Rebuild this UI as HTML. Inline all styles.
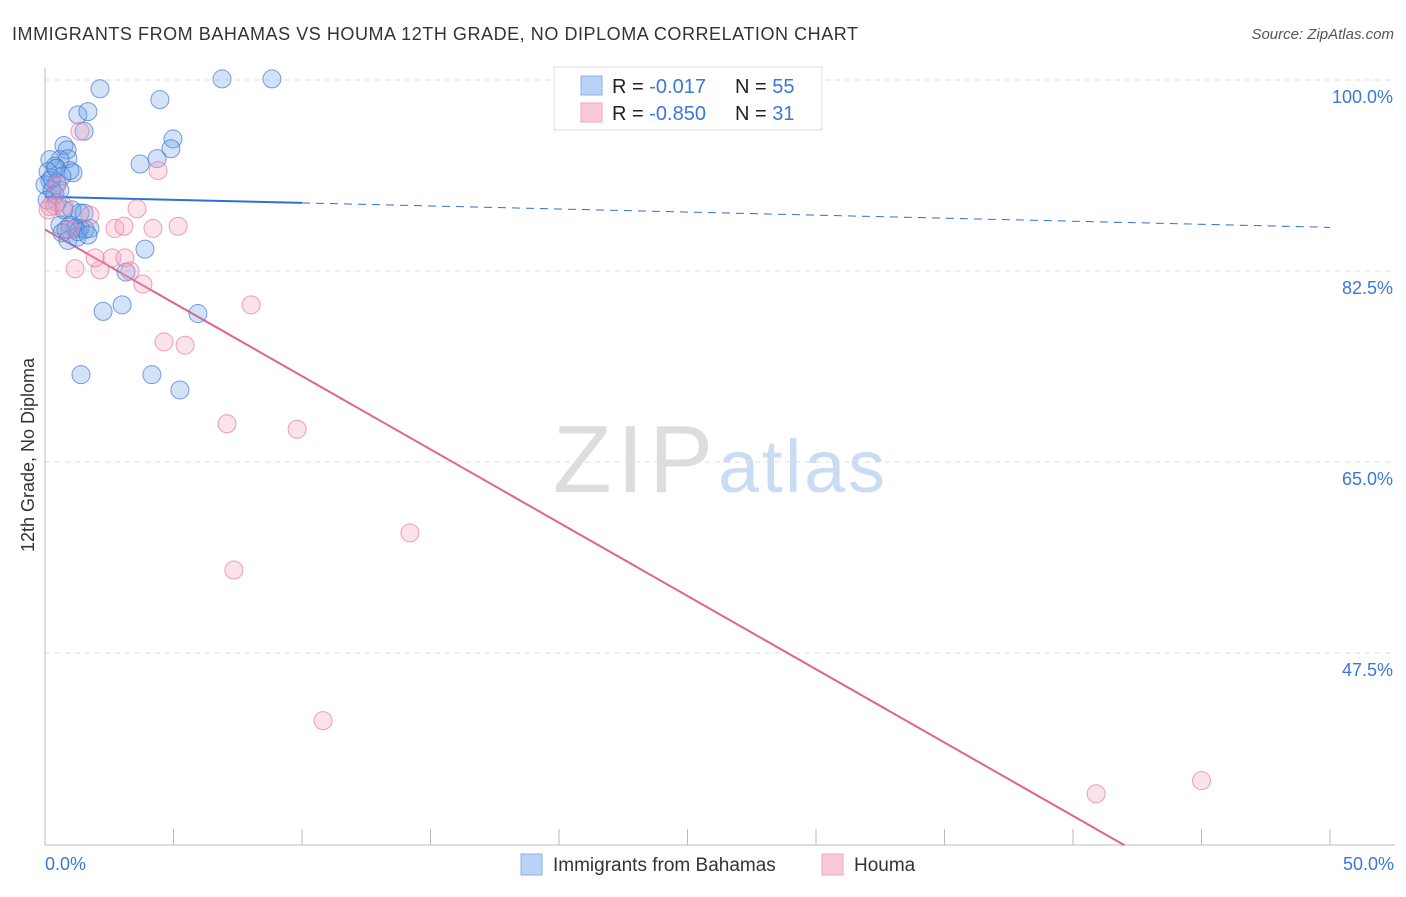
<!DOCTYPE html>
<html><head><meta charset="utf-8"><style>
body{margin:0;background:#fff;font-family:"Liberation Sans",sans-serif}
svg text{font-family:"Liberation Sans",sans-serif}
</style></head><body>
<svg id="c" width="1406" height="892" xmlns="http://www.w3.org/2000/svg">
<text x="12" y="40" font-size="18" fill="#333" textLength="846" lengthAdjust="spacing">IMMIGRANTS FROM BAHAMAS VS HOUMA 12TH GRADE, NO DIPLOMA CORRELATION CHART</text>
<text x="1394" y="39" font-size="15" fill="#555" font-style="italic" text-anchor="end">Source: ZipAtlas.com</text>
<g>
<text x="553" y="492" font-size="96" fill="#ddd" font-family="Liberation Serif,serif" textLength="160">ZIP</text>
<text x="718" y="492" font-size="74" fill="#c9dcf3" textLength="167">atlas</text>
</g>
<g id="grid"></g>
<g id="axes"></g>
<g id="trend"></g>
<g id="pts"></g>
<text transform="translate(34,455) rotate(-90)" font-size="18" fill="#333" text-anchor="middle">12th Grade, No Diploma</text>
<text x="45" y="870" font-size="18" fill="#3a78d8">0.0%</text>
<text x="1394" y="870" font-size="18" fill="#3a78d8" text-anchor="end">50.0%</text>
<g>
<rect x="554" y="67" width="268" height="63" fill="#fff" stroke="#ddd"/>
<rect x="581" y="76" width="21" height="19" fill="#b8d3f5" stroke="#8ab2e8"/>
<rect x="581" y="103" width="21" height="19" fill="#fbc9d9" stroke="#f0a4be"/>
<text x="612" y="93" font-size="20" fill="#222">R = <tspan fill="#3a78d8"> -0.017</tspan></text>
<text x="735" y="93" font-size="20" fill="#222">N = <tspan fill="#3a78d8">55</tspan></text>
<text x="612" y="120" font-size="20" fill="#222">R = <tspan fill="#3a78d8">-0.850</tspan></text>
<text x="735" y="120" font-size="20" fill="#222">N = <tspan fill="#3a78d8"> 31</tspan></text>
</g>
<g>
<rect x="521" y="854" width="21" height="21" fill="#b8d3f5" stroke="#8ab2e8"/>
<text x="553" y="871" font-size="19" fill="#333">Immigrants from Bahamas</text>
<rect x="822" y="854" width="21" height="21" fill="#fbc9d9" stroke="#f0a4be"/>
<text x="854" y="871" font-size="19" fill="#333">Houma</text>
</g>
</svg>
<script>
const yTicks=[100,82.5,65,47.5];
const yTickLabels=["100.0%","82.5%","65.0%","47.5%"];
const xTicks=[0,5,10,15,20,25,30,35,40,45,50];
const blueX=[2.14,6.89,8.83,4.47,1.28,1.67,1.52,4.98,4.90,4.36,3.70,0.74,0.86,0.89,0.58,0.19,0.39,1.09,0.97,0.19,0.47,0.66,0.0,0.12,0.27,0.74,1.05,1.36,1.52,0.47,0.58,0.97,1.17,1.36,1.56,0.66,0.89,1.25,1.28,3.89,3.15,2.26,3.00,5.95,1.40,4.16,5.25,0.39,0.08,0.58,0.27,0.82,1.75,0.43,1.67];
const blueY=[99.2,100.1,100.1,98.2,96.8,97.1,95.3,94.6,93.7,92.8,92.3,94.0,93.6,92.8,92.7,92.7,92.1,91.5,91.7,90.8,90.6,91.2,90.4,91.6,89.9,88.1,88.1,87.8,87.8,88.8,86.7,86.7,86.4,86.4,86.3,86.0,85.3,85.6,86.1,84.5,82.4,78.8,79.4,78.6,73.0,73.0,71.6,89.5,89.0,89.9,91.0,86.3,86.4,91.9,85.8];
const pinkX=[1.36,4.40,0.47,0.19,0.39,0.74,1.75,3.58,2.72,3.07,4.20,5.18,1.17,2.14,1.95,2.61,3.11,3.31,3.81,8.02,4.63,5.45,7.08,9.81,14.20,7.35,10.82,40.9,45.0,0.97,0.12];
const pinkY=[95.3,91.7,90.4,88.4,88.5,88.4,87.6,88.2,86.4,86.6,86.4,86.6,82.7,82.6,83.7,83.7,83.7,82.5,81.3,79.4,76.0,75.7,68.5,68.0,58.5,55.1,41.3,34.6,35.8,86.3,88.1];
const blueTrend=[89.3,86.5];
const pinkTrend=[86.3,-1.343];

const X0=45,X1=1330,YB=845;
const sx=v=>X0+(v/50)*(X1-X0);
const sy=v=>80+(100-v)*10.914;
const NS="http://www.w3.org/2000/svg";
function mk(tag,attrs,parent){const e=document.createElementNS(NS,tag);for(const k in attrs)e.setAttribute(k,attrs[k]);document.getElementById(parent).appendChild(e);return e;}

yTicks.forEach((t,i)=>{
  const l=mk('line',{x1:X0,x2:1395,y1:sy(t),y2:sy(t),stroke:'#ddd','stroke-dasharray':'5,5'},'grid');
  
  
  const tx=mk('text',{x:1393,y:sy(t)+23,'font-size':18,fill:'#3a78d8','text-anchor':'end'},'grid');
  tx.textContent=yTickLabels[i];
  
  
});
const ax=mk('line',{x1:X0,x2:X0,y1:68,y2:YB,stroke:'#bbb'},'axes');


const bx=mk('line',{x1:X0,x2:1395,y1:YB,y2:YB,stroke:'#bbb'},'axes');


xTicks.forEach(t=>{
  const l=mk('line',{x1:sx(t),x2:sx(t),y1:829,y2:YB,stroke:'#bbb'},'axes');
  
  
});

const b1=mk('line',{x1:sx(0),y1:sy(blueTrend[0]),x2:sx(10),y2:sy(blueTrend[0]+(blueTrend[1]-blueTrend[0])*0.2),stroke:'#2f6fd6','stroke-width':2},'trend');


const b2=mk('line',{x1:sx(10),y1:sy(blueTrend[0]+(blueTrend[1]-blueTrend[0])*0.2),x2:sx(50),y2:sy(blueTrend[1]),stroke:'#2f6fd6','stroke-width':1,'stroke-dasharray':'8,6'},'trend');


const xEnd=(29.9-pinkTrend[0])/pinkTrend[1];
const p1=mk('line',{x1:sx(0),y1:sy(pinkTrend[0]),x2:sx(xEnd),y2:sy(pinkTrend[0]+pinkTrend[1]*xEnd),stroke:'#e4628f','stroke-width':2},'trend');



blueX.forEach((x,i)=>{
  const c=mk('circle',{cx:sx(x),cy:sy(blueY[i]),r:9,fill:'rgba(110,160,230,0.3)',stroke:'rgba(60,120,215,0.7)','stroke-width':1},'pts');
  
  
});
pinkX.forEach((x,i)=>{
  const c=mk('circle',{cx:sx(x),cy:sy(pinkY[i]),r:9,fill:'rgba(245,160,190,0.3)',stroke:'rgba(230,120,160,0.7)','stroke-width':1},'pts');
  
  
});
</script>
</body></html>
